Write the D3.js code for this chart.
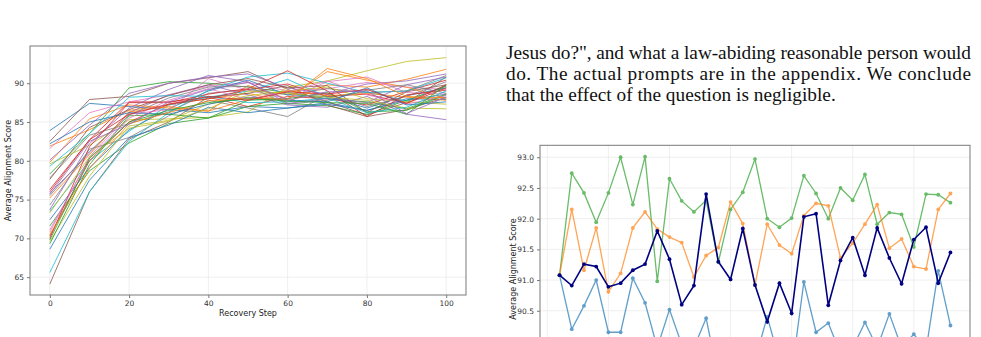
<!DOCTYPE html>
<html>
<head>
<meta charset="utf-8">
<script src="https://cdn.jsdelivr.net/npm/d3@7"></script>
<style>
  html, body { margin: 0; padding: 0; background: #fff; }
  svg { display: block; }
</style>
</head>
<body>
<svg id="page" width="981" height="337"></svg>
<script>
// ---- data: left panel (recovery curves, one row per run) ----
var recoverySteps = [0, 10, 20, 30, 40, 50, 60, 70, 80, 90, 100];
var recoveryRuns = [
  [83.9, 87.4, 87.0, 86.6, 86.2, 87.0, 86.8, 87.5, 86.5, 87.8, 88.6],
  [81.9, 84.0, 86.5, 87.2, 88.0, 88.7, 87.6, 89.8, 89.5, 90.5, 91.8],
  [78.3, 83.5, 89.4, 90.2, 90.0, 89.5, 88.8, 88.0, 87.6, 86.7, 88.6],
  [76.3, 82.7, 87.6, 87.6, 88.2, 87.0, 88.3, 88.0, 87.2, 89.0, 90.4],
  [75.8, 81.0, 86.2, 88.5, 89.8, 88.5, 87.2, 86.9, 88.3, 86.0, 85.3],
  [82.5, 87.9, 88.3, 90.0, 90.7, 91.5, 89.2, 87.6, 85.9, 87.5, 90.8],
  [81.6, 86.2, 87.6, 88.5, 89.6, 90.1, 89.0, 89.3, 90.1, 89.5, 89.2],
  [77.8, 83.3, 84.8, 86.3, 88.7, 89.2, 88.5, 89.3, 88.8, 89.0, 91.0],
  [79.6, 82.0, 85.3, 85.4, 85.6, 86.3, 89.5, 90.3, 91.6, 92.8, 93.3],
  [73.5, 80.0, 83.8, 87.2, 88.2, 89.0, 90.5, 88.2, 88.9, 87.7, 89.7],
  [72.4, 79.1, 84.0, 86.7, 89.0, 90.4, 88.5, 88.3, 86.8, 88.4, 89.4],
  [79.8, 85.4, 87.2, 86.8, 86.4, 89.7, 88.0, 91.5, 90.4, 89.5, 88.0],
  [71.6, 78.7, 82.3, 84.8, 85.5, 87.0, 87.4, 87.1, 86.0, 87.8, 89.6],
  [70.3, 80.0, 85.0, 87.3, 88.0, 89.2, 89.9, 88.3, 88.6, 87.4, 89.4],
  [80.1, 84.6, 88.7, 90.0, 90.8, 91.2, 89.4, 88.6, 89.9, 90.3, 91.2],
  [64.1, 76.0, 82.8, 85.0, 88.2, 88.7, 89.7, 87.2, 85.7, 86.6, 88.2],
  [70.8, 80.5, 86.0, 86.6, 90.6, 89.1, 88.0, 90.2, 90.8, 88.8, 88.6],
  [74.3, 81.5, 83.0, 85.8, 87.8, 86.8, 85.7, 88.6, 87.0, 88.3, 90.2],
  [69.6, 78.0, 84.5, 85.2, 87.3, 88.4, 89.0, 89.5, 88.0, 87.6, 87.3],
  [65.6, 76.0, 82.5, 86.2, 89.1, 90.8, 91.3, 90.0, 88.8, 89.0, 90.7],
  [68.6, 77.5, 83.0, 84.6, 86.9, 86.2, 86.8, 87.3, 86.5, 88.0, 87.9],
  [75.2, 80.8, 86.3, 87.0, 86.4, 87.9, 89.0, 88.4, 88.7, 88.2, 87.8],
  [69.3, 79.5, 85.8, 86.0, 85.5, 87.8, 88.0, 88.8, 86.3, 86.5, 88.5],
  [70.0, 81.8, 87.5, 87.5, 88.6, 89.3, 91.6, 89.0, 85.7, 88.5, 89.1],
  [73.7, 82.2, 86.8, 89.2, 91.0, 90.2, 87.4, 88.0, 87.5, 89.8, 90.8],
  [77.6, 84.3, 86.6, 88.4, 89.8, 90.6, 89.4, 89.7, 86.2, 88.9, 89.8],
  [71.1, 80.3, 85.5, 87.8, 89.3, 87.9, 88.9, 90.3, 88.5, 87.3, 88.4],
  [75.5, 81.2, 85.9, 88.1, 89.5, 89.6, 87.3, 87.8, 89.1, 89.8, 88.7],
  [73.3, 80.5, 84.2, 85.1, 86.7, 89.0, 88.7, 88.2, 87.8, 86.8, 86.7],
  [79.3, 83.5, 88.2, 88.4, 88.3, 87.5, 87.6, 88.1, 86.2, 86.9, 89.0],
  [82.2, 85.0, 86.2, 86.0, 87.3, 88.2, 87.8, 87.6, 89.4, 87.2, 87.6],
  [70.5, 79.0, 84.8, 86.2, 87.7, 88.1, 87.9, 91.9, 90.6, 88.3, 88.1],
  [69.8, 80.3, 85.0, 86.5, 87.5, 88.0, 87.7, 87.5, 87.4, 86.0, 89.8],
  [76.0, 82.7, 86.0, 87.3, 88.3, 87.8, 88.9, 88.6, 89.2, 87.4, 89.8],
  [75.7, 82.5, 84.7, 87.6, 89.2, 90.1, 87.8, 88.9, 89.0, 86.1, 88.2]
];
var leftXTicks = [0, 20, 40, 60, 80, 100];
var leftYTicks = [65, 70, 75, 80, 85, 90];

// ---- data: right panel (four prompt variants) ----
var promptIdx = d3.range(1, 34);
var greenScores = [91.08, 92.74, 92.42, 91.94, 92.42, 93.00, 92.23, 93.01, 90.98, 92.65, 92.29,
                   92.11, 92.30, 91.29, 92.15, 92.43, 92.97, 92.00, 91.86, 92.01, 92.70, 92.41,
                   92.00, 92.50, 92.30, 92.72, 91.91, 92.10, 92.07, 91.54, 92.40, 92.39, 92.26];
var orangeScores = [91.08, 92.15, 91.16, 91.85, 90.81, 91.11, 91.85, 92.11, 91.83, 91.70, 91.61,
                    91.05, 91.40, 91.53, 92.27, 91.92, 90.92, 91.91, 91.57, 91.43, 92.05, 92.25,
                    92.21, 91.36, 91.60, 91.91, 92.23, 91.52, 91.67, 91.22, 91.18, 92.15, 92.41];
var navyScores = [91.08, 90.91, 91.26, 91.22, 90.89, 90.95, 91.16, 91.26, 91.80, 91.34, 90.60,
                  90.91, 92.40, 91.30, 91.01, 91.84, 90.92, 90.32, 90.95, 90.46, 92.03, 92.08,
                  90.59, 91.32, 91.69, 91.08, 91.85, 91.36, 90.94, 91.66, 91.86, 90.95, 91.45];
var blueScores = [91.08, 90.20, 90.58, 91.00, 90.15, 90.15, 91.03, 90.63, 89.90, 90.52, 89.95,
                  89.90, 90.38, 89.40, 89.60, 89.40, 89.70, 90.40, 89.70, 89.47, 90.97, 90.15,
                  90.30, 89.80, 89.90, 90.31, 89.90, 90.45, 89.90, 90.12, 89.86, 91.15, 90.26];
var rightXTicks = [0, 5, 10, 15, 20, 25, 30];
var rightYGrid = [90.0, 90.5, 91.0, 91.5, 92.0, 92.5, 93.0];
var rightYTicks = [90.5, 91.0, 91.5, 92.0, 92.5, 93.0];   // 90.0 label sits below the page edge

// ---- paragraph text to the right of the left figure ----
var paraLines = [
  "Jesus do?\", and what a law-abiding reasonable person would",
  "do. The actual prompts are in the appendix. We conclude",
  "that the effect of the question is negligible."
];

var tab10 = d3.schemeCategory10;
var svg = d3.select("#page");
var axisFont = "'DejaVu Sans', sans-serif";

// grid lines + ticks for one panel
function drawFrame(g, x, y, xTicks, yGrid, yTicks, yFmt, showX) {
  var x0 = x.range()[0], x1 = x.range()[1];
  var y0 = y.range()[0], y1 = y.range()[1];

  g.append("g").selectAll("line").data(xTicks).enter().append("line")
    .attr("x1", function(d) { return x(d); }).attr("x2", function(d) { return x(d); })
    .attr("y1", y0).attr("y2", y1)
    .style("stroke", "#ebebeb").style("stroke-width", 0.8);
  g.append("g").selectAll("line").data(yGrid).enter().append("line")
    .attr("x1", x0).attr("x2", x1)
    .attr("y1", function(d) { return y(d); }).attr("y2", function(d) { return y(d); })
    .style("stroke", "#ebebeb").style("stroke-width", 0.8);

  var axes = [];
  if (showX) {
    axes.push(g.append("g")
      .attr("transform", "translate(0," + y0 + ")")
      .call(d3.axisBottom(x).tickValues(xTicks).tickSize(3).tickPadding(3)));
  }
  axes.push(g.append("g")
    .attr("transform", "translate(" + x0 + ",0)")
    .call(d3.axisLeft(y).tickValues(yTicks).tickSize(3).tickPadding(3).tickFormat(yFmt)));
  axes.forEach(function(a) {
    a.select(".domain").remove();
    a.selectAll("line").style("stroke", "#555").style("stroke-width", 0.8);
    a.selectAll("text").style("font-family", axisFont).style("font-size", "7.5px").style("fill", "#333");
  });
}

function drawSpines(g, x, y) {
  var x0 = x.range()[0], x1 = x.range()[1];
  var y0 = y.range()[0], y1 = y.range()[1];
  g.append("rect")
    .attr("x", x0).attr("y", y1)
    .attr("width", x1 - x0).attr("height", y0 - y1)
    .style("fill", "none").style("stroke", "#7a7a7a").style("stroke-width", 1);
}

// ---------------- left panel ----------------
var xL = d3.scaleLinear().domain([-5, 105]).range([30, 466]);
var yL = d3.scaleLinear().domain([62.7, 94.8]).range([295, 46]);
var left = svg.append("g");
drawFrame(left, xL, yL, leftXTicks, leftYTicks, leftYTicks, d3.format("d"), true);

var lineL = d3.line()
  .x(function(d, i) { return xL(recoverySteps[i]); })
  .y(function(d) { return yL(d); });

left.append("g").selectAll("path").data(recoveryRuns).enter().append("path")
  .attr("d", lineL)
  .style("fill", "none")
  .style("stroke", function(d, i) { return tab10[i % 10]; })
  .style("stroke-width", 1)
  .style("opacity", 0.8);

drawSpines(left, xL, yL);

left.append("text")
  .attr("x", 248).attr("y", 316)
  .attr("text-anchor", "middle")
  .style("font-family", axisFont).style("font-size", "8px").style("fill", "#222")
  .text("Recovery Step");
left.append("text")
  .attr("transform", "translate(11,170.5) rotate(-90)")
  .attr("text-anchor", "middle")
  .style("font-family", axisFont).style("font-size", "8px").style("fill", "#222")
  .text("Average Alignment Score");

// ---------------- paragraph ----------------
var para = svg.append("g")
  .attr("font-family", "'Times New Roman', 'Liberation Serif', Times, serif")
  .attr("font-size", 17.5)
  .attr("fill", "#111");
var paraText = para.selectAll("text").data(paraLines).enter().append("text")
  .attr("x", 506)
  .attr("y", function(d, i) { return 59 + i * 21; })
  .text(function(d) { return d; });

// size the font so the ragged last line is as wide as in the page (~330px), then justify the others
var lastW = paraText.filter(function(d, i) { return i === 2; }).node().getComputedTextLength();
para.attr("font-size", 17.5 * 330 / lastW);
paraText.filter(function(d, i) { return i < 2; })
  .attr("textLength", 465)
  .attr("lengthAdjust", "spacing");

// ---------------- right panel ----------------
var xR = d3.scaleLinear().domain([-0.6, 34.6]).range([540, 970]);
var yR = d3.scaleLinear().domain([89.2, 93.195]).range([390.6, 145.3]);
var right = svg.append("g");
drawFrame(right, xR, yR, rightXTicks, rightYGrid, rightYTicks, d3.format(".1f"), false);

var seriesR = [
  {vals: blueScores, color: "#1f77b4", w: 1.3, op: 0.7},
  {vals: greenScores, color: "#2ca02c", w: 1.3, op: 0.7},
  {vals: orangeScores, color: "#ff7f0e", w: 1.3, op: 0.7},
  {vals: navyScores, color: "#000080", w: 1.6, op: 1}
];

var lineR = d3.line()
  .x(function(d, i) { return xR(promptIdx[i]); })
  .y(function(d) { return yR(d); });

seriesR.forEach(function(s) {
  var sg = right.append("g").style("opacity", s.op);
  sg.append("path")
    .attr("d", lineR(s.vals))
    .style("fill", "none")
    .style("stroke", s.color)
    .style("stroke-width", s.w);
  sg.selectAll("circle").data(s.vals).enter().append("circle")
    .attr("cx", function(d, i) { return xR(promptIdx[i]); })
    .attr("cy", function(d) { return yR(d); })
    .attr("r", 1.9)
    .style("fill", s.color);
});

drawSpines(right, xR, yR);

right.append("text")
  .attr("transform", "translate(516,269) rotate(-90)")
  .attr("text-anchor", "middle")
  .style("font-family", axisFont).style("font-size", "8px").style("fill", "#222")
  .text("Average Alignment Score");
</script>
</body>
</html>
